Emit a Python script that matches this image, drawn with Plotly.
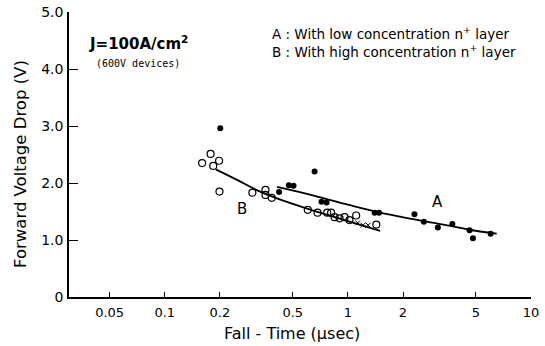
import numpy as np
import plotly.graph_objects as go

# Series A: with low concentration n+ layer (filled dots)
a_time = [0.201, 0.658, 0.476, 0.505, 0.421, 0.718, 0.765, 1.40, 1.48, 2.31, 2.60, 3.10, 3.72, 4.62, 4.82, 6.02]
a_vf = [2.96, 2.20, 1.96, 1.95, 1.84, 1.67, 1.66, 1.48, 1.48, 1.45, 1.32, 1.22, 1.28, 1.17, 1.03, 1.11]

# Series B: with high concentration n+ layer (open circles)
b_time = [0.160, 0.178, 0.198, 0.184, 0.199, 0.301, 0.355, 0.355, 0.384, 0.604, 0.683, 0.771,
          0.810, 0.846, 0.901, 0.959, 1.02, 1.11, 1.43]
b_vf = [2.35, 2.51, 2.39, 2.30, 1.85, 1.83, 1.88, 1.79, 1.74, 1.53, 1.48, 1.48,
        1.48, 1.40, 1.38, 1.40, 1.35, 1.43, 1.27]

# small cross marks among series B
c_time = [1.13, 1.21, 1.29]
c_vf = [1.30, 1.26, 1.26]

# hand-drawn trend curves
a_fit_time = [0.41, 0.65, 1.0, 1.5, 2.6, 3.75, 4.6, 6.5]
a_fit_vf = [1.93, 1.78, 1.62, 1.48, 1.33, 1.24, 1.18, 1.11]
b_fit_time = [0.19, 0.25, 0.32, 0.41, 0.6, 1.0, 1.5]
b_fit_vf = [2.24, 2.05, 1.87, 1.73, 1.55, 1.33, 1.16]

x_tickvals = [0.05, 0.1, 0.2, 0.5, 1, 2, 5, 10]
x_ticktext = ["0.05", "0.1", "0.2", "0.5", "1", "2", "5", "10"]
y_tickvals = [0, 1, 2, 3, 4, 5]
y_ticktext = ["0", "1.0", "2.0", "3.0", "4.0", "5.0"]

FONT = "DejaVu Sans"
W, H = 545, 346
ML, MR, MT, MB = 69, 14, 12, 49


def px_to_paper(px, py):
    return (px - ML) / (W - ML - MR), (H - MB - py) / (H - MT - MB)


fig = go.Figure()
fig.add_trace(go.Scatter(x=a_fit_time, y=a_fit_vf, mode="lines",
                         line=dict(color="black", width=1.8, shape="spline"),
                         showlegend=False, hoverinfo="skip"))
fig.add_trace(go.Scatter(x=b_fit_time, y=b_fit_vf, mode="lines",
                         line=dict(color="black", width=1.8, shape="spline"),
                         showlegend=False, hoverinfo="skip"))
fig.add_trace(go.Scatter(x=a_time, y=a_vf, mode="markers",
                         marker=dict(symbol="circle", size=6, color="black"),
                         name="A", showlegend=False))
fig.add_trace(go.Scatter(x=b_time, y=b_vf, mode="markers",
                         marker=dict(symbol="circle-open", size=7, color="black",
                                     line=dict(width=1.2, color="black")),
                         name="B", showlegend=False))
fig.add_trace(go.Scatter(x=c_time, y=c_vf, mode="markers",
                         marker=dict(symbol="x-thin-open", size=5, color="black",
                                     line=dict(width=1, color="black")),
                         showlegend=False))

ytx, yty = px_to_paper(20, 164)
xtx, xty = px_to_paper(292, 333)

annotations = [
    dict(x=np.log10(0.072), y=4.45, xref="x", yref="y", text="<b>J=100A/cm<sup>2</sup></b>",
         showarrow=False, font=dict(size=15, family=FONT, color="black")),
    dict(x=np.log10(0.071), y=4.10, xref="x", yref="y", text="(600V devices)",
         showarrow=False, font=dict(size=10, family="DejaVu Sans Mono", color="black")),
    dict(x=np.log10(0.375), y=4.64, xref="x", yref="y", xanchor="left",
         text="A : With low concentration n<sup>+</sup> layer",
         showarrow=False, font=dict(size=13.5, family=FONT, color="black")),
    dict(x=np.log10(0.375), y=4.31, xref="x", yref="y", xanchor="left",
         text="B : With high concentration n<sup>+</sup> layer",
         showarrow=False, font=dict(size=13.5, family=FONT, color="black")),
    dict(x=np.log10(3.09), y=1.67, xref="x", yref="y", text="A",
         showarrow=False, font=dict(size=15, family=FONT, color="black")),
    dict(x=np.log10(0.265), y=1.55, xref="x", yref="y", text="B",
         showarrow=False, font=dict(size=15, family=FONT, color="black")),
    dict(x=ytx, y=yty, xref="paper", yref="paper", xanchor="center", yanchor="middle",
         text="Forward Voltage Drop (V)", textangle=-90, showarrow=False,
         font=dict(size=16.5, family=FONT, color="black")),
    dict(x=xtx, y=xty, xref="paper", yref="paper", xanchor="center", yanchor="middle",
         text="Fall - Time (μsec)", showarrow=False,
         font=dict(size=16, family=FONT, color="black")),
]

fig.update_layout(
    width=W, height=H,
    margin=dict(l=ML, r=MR, t=MT, b=MB),
    paper_bgcolor="white", plot_bgcolor="white",
    font=dict(family=FONT, size=14, color="black"),
    annotations=annotations,
    hovermode=False,
    xaxis=dict(type="log", range=[np.log10(0.03), 1], tickvals=x_tickvals, ticktext=x_ticktext,
               ticks="inside", ticklen=5, tickwidth=1, tickcolor="black", automargin=False,
               ticklabelstandoff=3,
               showline=True, linecolor="black", linewidth=1.6, showgrid=False, zeroline=False,
               tickfont=dict(size=13, family=FONT)),
    yaxis=dict(range=[0, 5], tickvals=y_tickvals, ticktext=y_ticktext,
               ticks="inside", ticklen=9, tickwidth=1.2, tickcolor="black", automargin=False,
               ticklabelstandoff=1,
               showline=True, linecolor="black", linewidth=1.6, showgrid=False, zeroline=False,
               tickfont=dict(size=14, family=FONT)),
)

fig.write_html("out.html", config={"displayModeBar": False},
               post_script="document.body.style.margin='0px';")
